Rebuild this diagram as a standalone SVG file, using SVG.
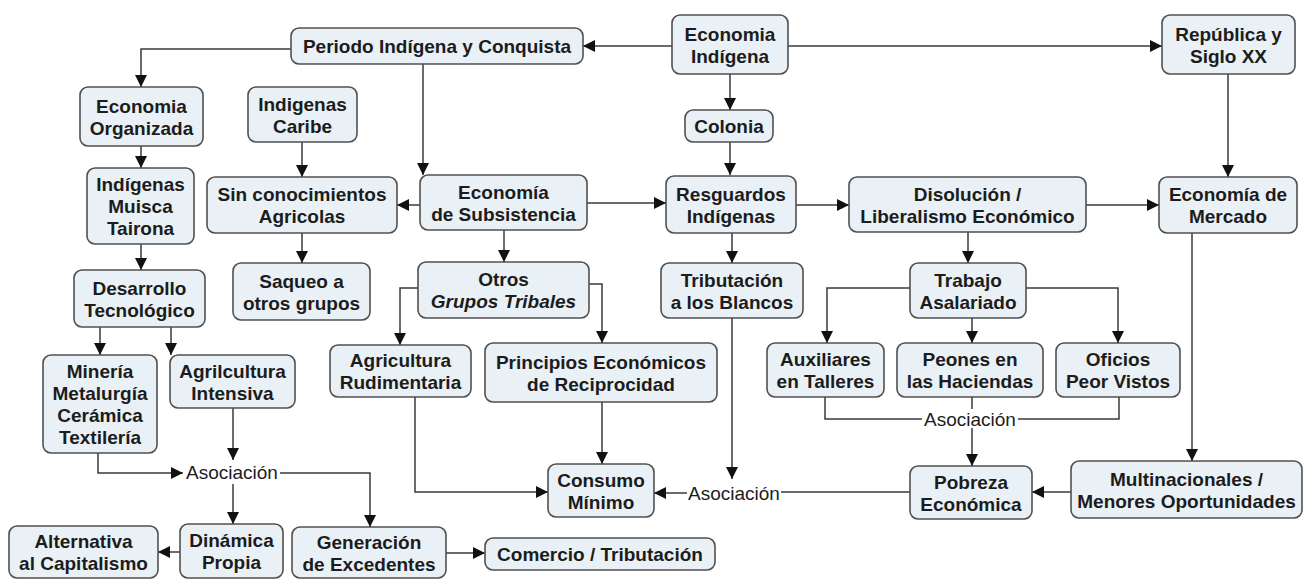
<svg xmlns="http://www.w3.org/2000/svg" width="1304" height="579" viewBox="0 0 1304 579">
<defs>
<style>
.n rect{fill:#e9f1f6;stroke:#505050;stroke-width:1.6}
.n text{font-family:"Liberation Sans",Arial,sans-serif;font-size:19px;font-weight:bold;fill:#1c1c1c;text-anchor:middle}
.c path{fill:none;stroke:#3a3a3a;stroke-width:1.5}
.c .a{marker-end:url(#ah)}
.lk{font-family:"Liberation Sans",Arial,sans-serif;font-size:19px;fill:#1c1c1c;text-anchor:middle}
</style>
<marker id="ah" markerUnits="userSpaceOnUse" markerWidth="13" markerHeight="13" refX="12" refY="6" orient="auto">
<path d="M0,0 L12,6 L0,12 z" fill="#111"/>
</marker>
</defs>
<rect width="1304" height="579" fill="#fff"/>
<g class="c" id="connectors">
<path class="a" d="M672,46 H583"/>
<path class="a" d="M788,46 H1162"/>
<path class="a" d="M730,74 V110"/>
<path class="a" d="M730,142 V175"/>
<path class="a" d="M291,49 H141 V87"/>
<path class="a" d="M423,64 V175"/>
<path class="a" d="M302,142 V177"/>
<path class="a" d="M141,146 V168"/>
<path class="a" d="M141,244 V270"/>
<path class="a" d="M100,327 V355"/>
<path class="a" d="M171,327 V355"/>
<path class="a" d="M420,205 H397"/>
<path class="a" d="M587,203 H666"/>
<path class="a" d="M796,205 H849"/>
<path class="a" d="M1086,205 H1159"/>
<path class="a" d="M1228,74 V177"/>
<path class="a" d="M302,233 V263"/>
<path class="a" d="M504,230 V262"/>
<path class="a" d="M732,233 V263"/>
<path class="a" d="M968,232 V263"/>
<path class="a" d="M418,288 H400 V345"/>
<path class="a" d="M589,284 H602 V343"/>
<path class="a" d="M910,288 H827 V343"/>
<path class="a" d="M972,318 V343"/>
<path class="a" d="M1026,288 H1118 V343"/>
<path class="a" d="M98,453 V473 H183"/>
<path class="a" d="M233,408 V460"/>
<path class="a" d="M233,484 V524"/>
<path class="a" d="M280,473 H370 V527"/>
<path class="a" d="M180,552 H158"/>
<path class="a" d="M446,553 H485"/>
<path class="a" d="M415,397 V492 H548"/>
<path class="a" d="M602,402 V464"/>
<path class="a" d="M732,318 V479"/>
<path class="a" d="M687,493 H654"/>
<path d="M910,492 H781"/>
<path d="M825,397 V419 H922"/>
<path d="M1119,397 V419 H1018"/>
<path d="M972,397 V409"/>
<path class="a" d="M972,428 V466"/>
<path class="a" d="M1192,233 V461"/>
<path class="a" d="M1071,492 H1032"/>
</g>
<g id="links">
<text class="lk" x="232" y="479">Asociación</text>
<text class="lk" x="734" y="500">Asociación</text>
<text class="lk" x="970" y="426">Asociación</text>
</g>
<g class="n" id="n1"><rect x="291" y="28" width="292" height="36" rx="8"/><text x="437" y="53">Periodo Indígena y Conquista</text></g>
<g class="n" id="n2"><rect x="672" y="15" width="116" height="59" rx="8"/><text x="730" y="40.5">Economia</text><text x="730" y="62.5">Indígena</text></g>
<g class="n" id="n3"><rect x="1162" y="15" width="133" height="59" rx="8"/><text x="1228.5" y="40.5">República y</text><text x="1228.5" y="62.5">Siglo XX</text></g>
<g class="n" id="n4"><rect x="685" y="110" width="88" height="32" rx="8"/><text x="729" y="133">Colonia</text></g>
<g class="n" id="n5"><rect x="80" y="87" width="123" height="59" rx="8"/><text x="141.5" y="112.5">Economia</text><text x="141.5" y="134.5">Organizada</text></g>
<g class="n" id="n6"><rect x="248" y="87" width="109" height="55" rx="8"/><text x="302.5" y="110.5">Indigenas</text><text x="302.5" y="132.5">Caribe</text></g>
<g class="n" id="n7"><rect x="87" y="168" width="107" height="76" rx="8"/><text x="140.5" y="191">Indígenas</text><text x="140.5" y="213">Muisca</text><text x="140.5" y="235">Tairona</text></g>
<g class="n" id="n8"><rect x="207" y="177" width="190" height="56" rx="8"/><text x="302" y="201">Sin conocimientos</text><text x="302" y="223">Agricolas</text></g>
<g class="n" id="n9"><rect x="420" y="175" width="167" height="55" rx="8"/><text x="503.5" y="198.5">Economía</text><text x="503.5" y="220.5">de Subsistencia</text></g>
<g class="n" id="n10"><rect x="666" y="176" width="130" height="57" rx="8"/><text x="731" y="200.5">Resguardos</text><text x="731" y="222.5">Indígenas</text></g>
<g class="n" id="n11"><rect x="849" y="177" width="237" height="55" rx="8"/><text x="967.5" y="200.5">Disolución /</text><text x="967.5" y="222.5">Liberalismo Económico</text></g>
<g class="n" id="n12"><rect x="1159" y="177" width="138" height="56" rx="8"/><text x="1228" y="201">Economía de</text><text x="1228" y="223">Mercado</text></g>
<g class="n" id="n13"><rect x="74" y="270" width="131" height="57" rx="8"/><text x="139.5" y="294.5">Desarrollo</text><text x="139.5" y="316.5">Tecnológico</text></g>
<g class="n" id="n14"><rect x="233" y="263" width="137" height="57" rx="8"/><text x="301.5" y="287.5">Saqueo a</text><text x="301.5" y="309.5">otros grupos</text></g>
<g class="n" id="n15"><rect x="418" y="262" width="171" height="56" rx="8"/><text x="503.5" y="286">Otros</text><text x="503.5" y="308" font-style="italic">Grupos Tribales</text></g>
<g class="n" id="n16"><rect x="661" y="263" width="142" height="55" rx="8"/><text x="732" y="286.5">Tributación</text><text x="732" y="308.5">a los Blancos</text></g>
<g class="n" id="n17"><rect x="910" y="263" width="116" height="55" rx="8"/><text x="968" y="286.5">Trabajo</text><text x="968" y="308.5">Asalariado</text></g>
<g class="n" id="n18"><rect x="43" y="355" width="114" height="98" rx="8"/><text x="100" y="378">Minería</text><text x="100" y="400">Metalurgía</text><text x="100" y="422">Cerámica</text><text x="100" y="444">Textilería</text></g>
<g class="n" id="n19"><rect x="170" y="355" width="125" height="53" rx="8"/><text x="232.5" y="377.5">Agrilcultura</text><text x="232.5" y="399.5">Intensiva</text></g>
<g class="n" id="n20"><rect x="330" y="345" width="141" height="52" rx="8"/><text x="400.5" y="367">Agricultura</text><text x="400.5" y="389">Rudimentaria</text></g>
<g class="n" id="n21"><rect x="485" y="343" width="232" height="59" rx="8"/><text x="601" y="368.5">Principios Económicos</text><text x="601" y="390.5">de Reciprocidad</text></g>
<g class="n" id="n22"><rect x="767" y="343" width="117" height="54" rx="8"/><text x="825.5" y="366">Auxiliares</text><text x="825.5" y="388">en Talleres</text></g>
<g class="n" id="n23"><rect x="897" y="343" width="146" height="54" rx="8"/><text x="970" y="366">Peones en</text><text x="970" y="388">las Haciendas</text></g>
<g class="n" id="n24"><rect x="1056" y="343" width="124" height="54" rx="8"/><text x="1118" y="366">Oficios</text><text x="1118" y="388">Peor Vistos</text></g>
<g class="n" id="n25"><rect x="548" y="464" width="106" height="53" rx="8"/><text x="601" y="486.5">Consumo</text><text x="601" y="508.5">Mínimo</text></g>
<g class="n" id="n26"><rect x="910" y="466" width="122" height="53" rx="8"/><text x="971" y="488.5">Pobreza</text><text x="971" y="510.5">Económica</text></g>
<g class="n" id="n27"><rect x="1071" y="461" width="231" height="57" rx="8"/><text x="1186.5" y="485.5">Multinacionales /</text><text x="1186.5" y="507.5">Menores Oportunidades</text></g>
<g class="n" id="n28"><rect x="9" y="526" width="149" height="52" rx="8"/><text x="83.5" y="548">Alternativa</text><text x="83.5" y="570">al Capitalismo</text></g>
<g class="n" id="n29"><rect x="180" y="524" width="103" height="54" rx="8"/><text x="231.5" y="547">Dinámica</text><text x="231.5" y="569">Propia</text></g>
<g class="n" id="n30"><rect x="292" y="527" width="154" height="51" rx="8"/><text x="369" y="548.5">Generación</text><text x="369" y="570.5">de Excedentes</text></g>
<g class="n" id="n31"><rect x="485" y="538" width="230" height="32" rx="8"/><text x="600" y="561">Comercio / Tributación</text></g>
</svg>
